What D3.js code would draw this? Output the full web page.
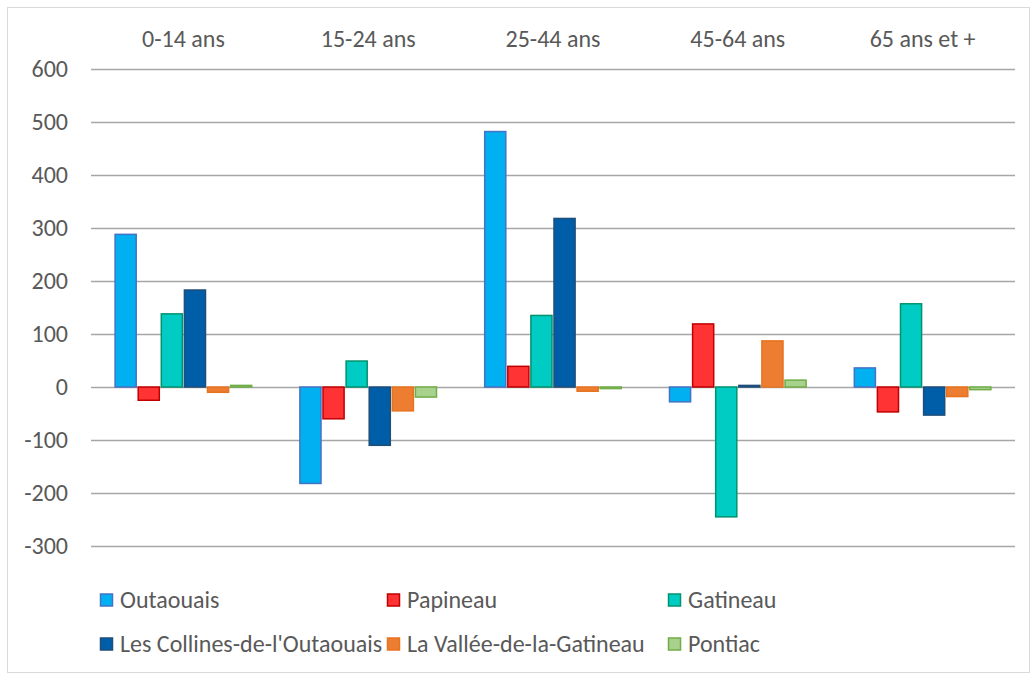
<!DOCTYPE html>
<html>
<head>
<meta charset="utf-8">
<script src="https://cdn.jsdelivr.net/npm/d3@7"></script>
<style>
  body { margin: 0; background: #fff; }
  svg text { font-family: Carlito, "Open Sans", "Noto Sans", sans-serif; fill: #595959; }
</style>
</head>
<body>
<svg id="chart" width="1031" height="675"></svg>
<script>
// age groups (top axis)
const categories = ['0-14 ans', '15-24 ans', '25-44 ans', '45-64 ans', '65 ans et +'];

// one entry per territory
const seriesNames = ['Outaouais', 'Papineau', 'Gatineau', "Les Collines-de-l'Outaouais", 'La Vallée-de-la-Gatineau', 'Pontiac'];
const outaouais = [288, -182, 482, -28, 36];
const papineau  = [-25, -60, 39, 119, -47];
const gatineau  = [138, 49, 135, -245, 157];
const collines  = [183, -110, 318, 3, -53];
const vallee    = [-10, -45, -8, 87, -18];
const pontiac   = [3, -19, -3, 13, -5];

const yTicks = [600, 500, 400, 300, 200, 100, 0, -100, -200, -300];

const fills   = ['#00B0F0', '#FF3333', '#00CCC4', '#005DA8', '#ED7D31', '#A9D18E'];
const strokes = ['#4472C4', '#C00000', '#00936E', '#1F4E79', '#E8731F', '#70AD47'];

const allValues = [outaouais, papineau, gatineau, collines, vallee, pontiac];

const svg = d3.select('#chart');

// outer frame
svg.append('rect')
    .attr('x', 7.5).attr('y', 7.5)
    .attr('width', 1022).attr('height', 665)
    .attr('fill', 'none')
    .attr('stroke', '#d9d9d9');

const plot = {left: 91, right: 1015, top: 69, bottom: 546};

const x0 = d3.scaleBand()
    .domain(categories)
    .range([plot.left, plot.right]);

const bw = x0.bandwidth();
const x1 = d3.scaleBand()
    .domain(d3.range(seriesNames.length))
    .range([bw / 8, bw * 7 / 8]);

const y = d3.scaleLinear()
    .domain([-300, 600])
    .range([plot.bottom, plot.top]);

// gridlines
svg.append('g')
    .selectAll('line')
    .data(yTicks)
    .enter()
    .append('line')
    .attr('x1', plot.left)
    .attr('x2', plot.right)
    .attr('y1', d => Math.round(y(d)) + 0.5)
    .attr('y2', d => Math.round(y(d)) + 0.5)
    .attr('stroke', '#a6a6a6')
    .attr('stroke-width', 1.6);

// y tick labels
svg.append('g')
    .selectAll('text')
    .data(yTicks)
    .enter()
    .append('text')
    .attr('x', 68)
    .attr('y', d => y(d))
    .attr('dy', '0.35em')
    .attr('text-anchor', 'end')
    .attr('font-size', '24px')
    .text(d => d);

// category labels on top
svg.append('g')
    .selectAll('text')
    .data(categories)
    .enter()
    .append('text')
    .attr('x', d => x0(d) + bw / 2)
    .attr('y', 39)
    .attr('dy', '0.35em')
    .attr('text-anchor', 'middle')
    .attr('font-size', '24px')
    .text(d => d);

// bars
const groups = svg.append('g')
    .selectAll('g')
    .data(categories)
    .enter()
    .append('g')
    .attr('transform', d => `translate(${x0(d)},0)`);

groups.selectAll('rect')
    .data((d, ci) => allValues.map((vals, si) => ({si: si, value: vals[ci]})))
    .enter()
    .append('rect')
    .attr('x', d => x1(d.si) + 1)
    .attr('width', x1.bandwidth() - 2)
    .attr('y', d => y(Math.max(0, d.value)))
    .attr('height', d => Math.max(1, Math.abs(y(d.value) - y(0))))
    .attr('fill', d => fills[d.si])
    .attr('stroke', d => strokes[d.si])
    .attr('stroke-width', 1.5);

// legend
const legendCols = [100, 387, 668];
const legendRows = [600, 644];
const legend = svg.append('g')
    .selectAll('g')
    .data(seriesNames)
    .enter()
    .append('g')
    .attr('transform', (d, i) => `translate(${legendCols[i % 3]},${legendRows[Math.floor(i / 3)]})`);

legend.append('rect')
    .attr('x', 0.5).attr('y', -6)
    .attr('width', 12).attr('height', 12)
    .attr('fill', (d, i) => fills[i])
    .attr('stroke', (d, i) => strokes[i])
    .attr('stroke-width', 1.5);

legend.append('text')
    .attr('x', 20)
    .attr('y', 0)
    .attr('dy', '0.35em')
    .attr('font-size', '24px')
    .text(d => d);
</script>
</body>
</html>
